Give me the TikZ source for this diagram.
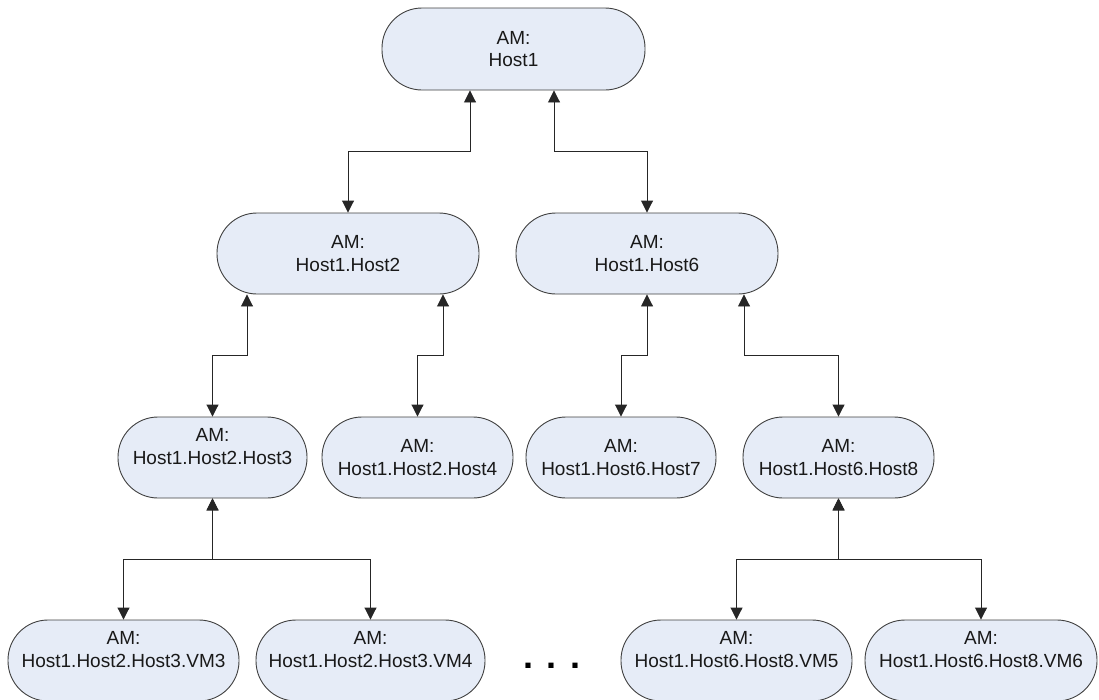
\documentclass[tikz,border=0pt]{standalone}
\usepackage{fontspec}
\setmainfont{Liberation Sans}
\usetikzlibrary{arrows.meta}
\definecolor{boxfill}{RGB}{230,236,247}
\begin{document}
\begin{tikzpicture}[x=1pt,y=-1pt,
  box/.style={draw=black!75, fill=boxfill, line width=0.9pt, rounded corners=40pt,
    align=center, font=\fontsize{19}{22.5}\selectfont, inner sep=0pt, text=black!90,
    minimum height=81pt},
  conn/.style={draw=black!85, line width=0.9pt,
    {Triangle[length=12pt,width=12pt]}-{Triangle[length=12pt,width=12pt]}}]
\useasboundingbox (0,0) rectangle (1099,699);
% level 1
\node[box, minimum width=263pt, minimum height=82pt] (h1) at (513.5,49) {AM:\\Host1};
% level 2
\node[box, minimum width=262pt] (h12) at (348,253.5) {AM:\\Host1.Host2};
\node[box, minimum width=262pt] (h16) at (647,253.5) {AM:\\Host1.Host6};
% level 3
\node[box, minimum width=189pt] (h123) at (212.5,457.5) {AM:\\Host1.Host2.Host3\\\rule{0pt}{0pt}};
\node[box, minimum width=191pt] (h124) at (417.5,457.5) {AM:\\Host1.Host2.Host4};
\node[box, minimum width=190pt] (h167) at (621,457.5) {AM:\\Host1.Host6.Host7};
\node[box, minimum width=191pt] (h168) at (838.5,457.5) {AM:\\Host1.Host6.Host8};
% level 4
\node[box, minimum width=231pt] (vm3) at (123.5,660.5) {AM:\\Host1.Host2.Host3.VM3\\\rule{0pt}{0pt}};
\node[box, minimum width=229pt] (vm4) at (370.5,660.5) {AM:\\Host1.Host2.Host3.VM4\\\rule{0pt}{0pt}};
\node[box, minimum width=231pt] (vm5) at (736.5,660.5) {AM:\\Host1.Host6.Host8.VM5\\\rule{0pt}{0pt}};
\node[box, minimum width=232pt] (vm6) at (981,660.5) {AM:\\Host1.Host6.Host8.VM6\\\rule{0pt}{0pt}};
\node[anchor=base, inner sep=0pt, font=\fontsize{36}{40}\selectfont\bfseries] (dots) at (552,668) {. . .};
% connectors
\draw[conn] ([xshift=-43.5pt]h1.south) -- ++(0,61) -| (h12.north);
\draw[conn] ([xshift=40.5pt]h1.south) -- ++(0,61) -| (h16.north);
\draw[conn] ([xshift=-101pt]h12.south) -- ++(0,61) -| (h123.north);
\draw[conn] ([xshift=95pt]h12.south) -- ++(0,61) -| (h124.north);
\draw[conn] (h16.south) -- ++(0,61) -| (h167.north);
\draw[conn] ([xshift=97pt]h16.south) -- ++(0,61) -| (h168.north);
\draw[conn] (h123.south) -- ++(0,61) -| (vm3.north);
\draw[conn] (h123.south) -- ++(0,61) -| (vm4.north);
\draw[conn] (h168.south) -- ++(0,61) -| (vm5.north);
\draw[conn] (h168.south) -- ++(0,61) -| (vm6.north);
\end{tikzpicture}
\end{document}
